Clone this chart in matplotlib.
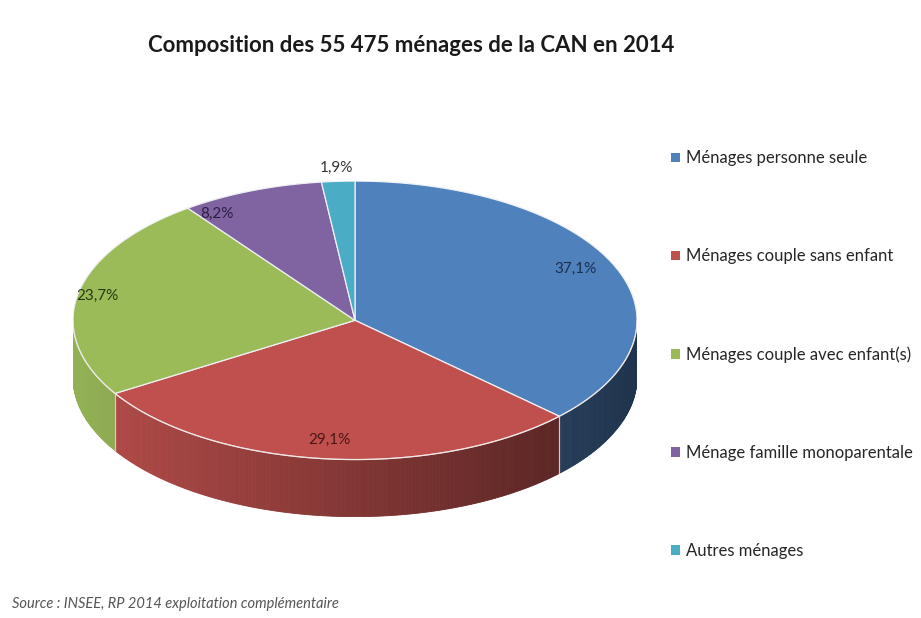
import numpy as np
import matplotlib.pyplot as plt
from matplotlib.patches import Polygon, Patch

# Data
categories = ["Ménages personne seule", "Ménages couple sans enfant",
              "Ménages couple avec enfant(s)", "Ménage famille monoparentale",
              "Autres ménages"]
shares = [37.1, 29.1, 23.7, 8.2, 1.9]
value_labels = ["37,1%", "29,1%", "23,7%", "8,2%", "1,9%"]

# Style
colors = ['#4f81bd', '#c0504d', '#9bbb59', '#8064a2', '#4bacc6']
label_colors = ['#1c2f4d', '#4a1716', '#283a0e', '#2a1f44', '#333333']
label_radius = [0.865, 0.865, 0.93, 0.91, 1.10]
label_nudge = [2, 0, 0, 11, 0]
depth = 0.41  # side height, in units of the vertical semi-axis

plt.rcParams['font.family'] = ['Lato', 'DejaVu Sans']

fig = plt.figure(figsize=(9.21, 6.18), dpi=100)
fig.patch.set_facecolor('white')

# pie axes: unit ellipse stretched over the pie's bounding box
ax = fig.add_axes([73 / 921, 0.164, 564 / 921, 0.543])
ax.set_xlim(-1, 1)
ax.set_ylim(-1 - depth, 1)
ax.axis('off')

total = sum(shares)
start = 90.0
for val, col, lab, lc, lr, nudge in zip(shares, colors, value_labels,
                                         label_colors, label_radius, label_nudge):
    sweep = 360.0 * val / total
    t1, t2 = start, start - sweep

    # visible side wall (front half of the disc)
    lo, hi = max(t2, -180.0), min(t1, 0.0)
    if hi > lo:
        n = max(int((hi - lo) * 2), 2)
        angs = np.linspace(lo, hi, n + 1)
        base = np.array(plt.matplotlib.colors.to_rgb(col))
        for a, b in zip(angs[:-1], angs[1:]):
            m = np.radians((a + b) / 2)
            shade = 0.675 - 0.275 * np.cos(m)
            c = np.clip(base * shade, 0, 1)
            ra, rb = np.radians(a), np.radians(b)
            quad = [(np.cos(ra), np.sin(ra)), (np.cos(rb), np.sin(rb)),
                    (np.cos(rb), np.sin(rb) - depth), (np.cos(ra), np.sin(ra) - depth)]
            ax.add_patch(Polygon(quad, closed=True, facecolor=c, edgecolor=c,
                                 linewidth=0.6, zorder=1))
        # light vertical seam at slice boundaries on the side
        for t in (lo, hi):
            if -180 < t < 0:
                r = np.radians(t)
                ax.plot([np.cos(r), np.cos(r)], [np.sin(r), np.sin(r) - depth],
                        color='#d9c9c0', linewidth=0.8, zorder=2)

    # top face
    ts = np.radians(np.linspace(t1, t2, max(int(sweep * 2), 4)))
    pts = [(0, 0)] + list(zip(np.cos(ts), np.sin(ts)))
    ax.add_patch(Polygon(pts, closed=True, facecolor=col, edgecolor='#eef0f4',
                         linewidth=0.9, zorder=3))

    # value label
    mid = np.radians((t1 + t2) / 2 + nudge)
    ax.text(lr * np.cos(mid), lr * np.sin(mid), lab, ha='center', va='center',
            fontsize=11, color=lc, zorder=5, clip_on=False)
    start = t2

# front rim highlight
rim = np.radians(np.linspace(-180, 0, 200))
ax.plot(np.cos(rim), np.sin(rim), color='#f2e4df', linewidth=0.8, alpha=0.7, zorder=4)

# title
fig.text(0.447, 0.927, "Composition des 55 475 ménages de la CAN en 2014",
         ha='center', va='center', fontsize=16, fontweight='bold', color='#1a1a1a')

# legend
handles = [Patch(facecolor=c, edgecolor='none') for c in colors]
fig.legend(handles, categories, loc='upper left', bbox_to_anchor=(0.729, 0.757),
           frameon=False, fontsize=12, handlelength=0.5, handleheight=0.5,
           handletextpad=0.4, labelspacing=4.92, borderpad=0, borderaxespad=0,
           labelcolor='#262626')

# source
fig.text(0.013, 0.022, "Source : INSEE, RP 2014 exploitation complémentaire",
         ha='left', va='center', fontsize=10.5, style='italic', color='#555555')

fig.savefig('out.png', dpi=100, facecolor='white')
